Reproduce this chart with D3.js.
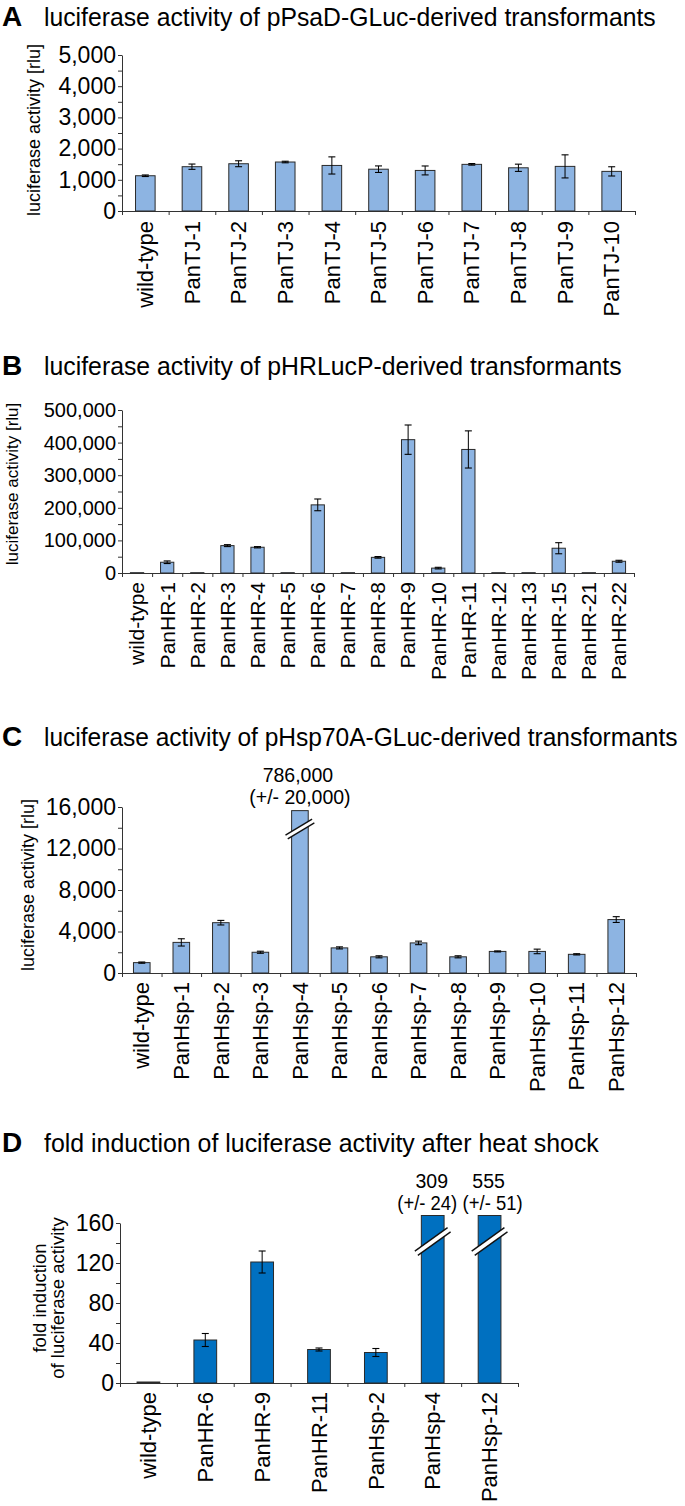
<!DOCTYPE html>
<html><head><meta charset="utf-8">
<script src="https://cdn.jsdelivr.net/npm/d3@7"></script>
<style>
body{margin:0;background:#fff}
svg{display:block}
text{font-family:"Liberation Sans",Arial,Helvetica,sans-serif}
</style>
</head><body>
<svg id="chart" width="685" height="1506"></svg>
<script>
// ---------- DATA ----------
const aCategories = ["wild-type","PanTJ-1","PanTJ-2","PanTJ-3","PanTJ-4","PanTJ-5","PanTJ-6","PanTJ-7","PanTJ-8","PanTJ-9","PanTJ-10"];
const aValues = [1130,1420,1515,1570,1460,1340,1300,1495,1385,1430,1270];
const aErrors = [25,85,95,25,275,105,143,25,116,370,148];
const aTicks = [0,1000,2000,3000,4000,5000];

const bCategories = ["wild-type","PanHR-1","PanHR-2","PanHR-3","PanHR-4","PanHR-5","PanHR-6","PanHR-7","PanHR-8","PanHR-9","PanHR-10","PanHR-11","PanHR-12","PanHR-13","PanHR-15","PanHR-21","PanHR-22"];
const bValues = [1000,33000,1000,84000,79000,1000,209000,1000,48000,409000,15000,379000,1000,1000,76000,1000,36000];
const bErrors = [0,4000,0,3000,2000,0,18000,0,2500,45000,2500,57000,0,0,17000,0,3000];
const bTicks = [0,100000,200000,300000,400000,500000];

const cCategories = ["wild-type","PanHsp-1","PanHsp-2","PanHsp-3","PanHsp-4","PanHsp-5","PanHsp-6","PanHsp-7","PanHsp-8","PanHsp-9","PanHsp-10","PanHsp-11","PanHsp-12"];
const cValues = [1000,2950,4850,2000,786000,2420,1560,2900,1560,2080,2080,1800,5150];
const cErrors = [60,350,220,100,20000,100,100,170,100,50,220,60,280];
const cTicks = [0,4000,8000,12000,16000];

const dCategories = ["wild-type","PanHR-6","PanHR-9","PanHR-11","PanHsp-2","PanHsp-4","PanHsp-12"];
const dValues = [1,43,121,33.5,30.5,309,555];
const dErrors = [0,6.5,11,1.5,4,24,51];
const dTicks = [0,40,80,120,160];

// ---------- DRAWING ----------
const svg = d3.select("#chart");
const fmt = d3.format(",");
const AXIS = "#333";

// place text at (x,y) and squeeze it horizontally to a given width
function fitText(sel, x, y, width, anchor) {
  const w = sel.node().getComputedTextLength();
  const s = Math.min(1, width / w);
  sel.attr("text-anchor", anchor || "start").attr("transform", `translate(${x},${y}) scale(${s},1)`);
  return sel;
}

function panel(o) {
  const g = svg.append("g");
  const n = o.categories.length;
  const x = d3.scaleBand().domain(o.categories).range([o.x0, o.x1]);
  const yMax = o.ticks[o.ticks.length - 1];
  const y = d3.scaleLinear().domain([0, yMax]).range([o.yBase, o.yTop]);
  const clip = o.clip ?? Infinity;

  // titles
  g.append("text").attr("x", 2).attr("y", o.titleY).attr("font-weight", "bold")
    .attr("font-size", 28).text(o.letter);
  fitText(g.append("text").attr("font-size", 26.5).text(o.title), 44, o.titleY, o.titleLen);

  // y axis with minor ticks
  const step = o.ticks[1] - o.ticks[0];
  const allTicks = d3.range(0, yMax + step / 4, step / 2);
  const ya = g.append("g").attr("transform", `translate(${o.x0},0)`)
    .call(d3.axisLeft(y).tickValues(allTicks)
      .tickFormat(d => o.ticks.some(t => Math.abs(t - d) < 1e-9) ? fmt(d) : "")
      .tickSize(4).tickSizeOuter(0).tickPadding(2));
  ya.selectAll("path,line").attr("stroke", AXIS);
  ya.selectAll("text").attr("font-size", o.tickFont).attr("fill", "#000");

  // x axis (ticks at category boundaries)
  const xi = d3.scaleLinear().domain([0, n]).range([o.x0, o.x1]);
  const xa = g.append("g").attr("transform", `translate(0,${o.yBase})`)
    .call(d3.axisBottom(xi).tickValues(d3.range(n + 1)).tickFormat("").tickSize(4).tickSizeOuter(0));
  xa.selectAll("path,line").attr("stroke", AXIS);

  // bars
  const bw = x.bandwidth() * o.barFrac;
  const bx = (i) => x(o.categories[i]) + (x.bandwidth() - bw) / 2;
  g.selectAll("rect.bar").data(o.values).join("rect").attr("class", "bar")
    .attr("x", (d, i) => bx(i))
    .attr("y", d => y(Math.min(d, clip)))
    .attr("width", bw)
    .attr("height", d => o.yBase - y(Math.min(d, clip)))
    .attr("fill", o.fill).attr("stroke", "#2a2a2a").attr("stroke-width", 1);

  // error bars
  const eb = o.values.map((v, i) => ({v, e: o.errors[i], i})).filter(d => d.v <= clip && d.e > 0);
  const cap = 3.5;
  eb.forEach(d => {
    const cx = x(o.categories[d.i]) + x.bandwidth() / 2;
    const y1 = y(d.v - d.e), y2 = y(d.v + d.e);
    g.append("line").attr("x1", cx).attr("x2", cx).attr("y1", y1).attr("y2", y2).attr("stroke", "#000").attr("stroke-width", 1);
    [y1, y2].forEach(yy => g.append("line").attr("x1", cx - cap).attr("x2", cx + cap)
      .attr("y1", yy).attr("y2", yy).attr("stroke", "#000").attr("stroke-width", 1.1));
  });

  // broken bars: break marks + annotations
  let k = 0;
  o.values.forEach((v, i) => {
    if (v <= clip) return;
    const cx = x(o.categories[i]) + x.bandwidth() / 2;
    const cy = y(o.breakAt);
    const hx = bw / 2 + 5, hy = hx * o.breakSlope;
    const len = Math.hypot(hx, hy);
    const px = hy / len * o.breakGap, py = hx / len * o.breakGap; // perpendicular
    g.append("line").attr("x1", cx - hx).attr("y1", cy + hy).attr("x2", cx + hx).attr("y2", cy - hy)
      .attr("stroke", "#fff").attr("stroke-width", o.breakGap * 2);
    [-1, 1].forEach(s => g.append("line")
      .attr("x1", cx - hx + s * px).attr("y1", cy + hy + s * py)
      .attr("x2", cx + hx + s * px).attr("y2", cy - hy + s * py)
      .attr("stroke", "#111").attr("stroke-width", 1.4));
    const dx = o.annDx[k++];
    g.append("text").attr("x", cx + dx[0]).attr("y", o.annY[0]).attr("text-anchor", "middle")
      .attr("font-size", 19.5).text(fmt(v));
    const t2 = g.append("text").attr("font-size", 19.5).text(`(+/- ${fmt(o.errors[i])})`);
    fitText(t2, cx + dx[1], o.annY[1], o.annLen || 999, "middle");
  });

  // category labels
  g.selectAll("text.xl").data(o.categories).join("text").attr("class", "xl")
    .attr("transform", d => `translate(${x(d) + x.bandwidth() / 2},${o.yBase + o.labelGap}) rotate(-90)`)
    .attr("text-anchor", "end").attr("dy", "0.35em").attr("font-size", o.labelFont).text(d => d);

  // y title
  o.yTitle.forEach((t, j) => {
    g.append("text").attr("transform", `translate(${o.yTitleX[j]},${o.yTitleY}) rotate(-90)`)
      .attr("text-anchor", "middle").attr("font-size", o.yTitleFont).text(t);
  });
}

panel({letter: "A", title: "luciferase activity of pPsaD-GLuc-derived transformants", titleY: 26, titleLen: 612,
  categories: aCategories, values: aValues, errors: aErrors, ticks: aTicks,
  x0: 122, x1: 635, yBase: 211, yTop: 55, barFrac: 0.42, fill: "#8db4e2",
  tickFont: 23, labelFont: 22, labelGap: 10,
  yTitle: ["luciferase activity [rlu]"], yTitleX: [40], yTitleY: 130, yTitleFont: 18});

panel({letter: "B", title: "luciferase activity of pHRLucP-derived transformants", titleY: 375, titleLen: 578,
  categories: bCategories, values: bValues, errors: bErrors, ticks: bTicks,
  x0: 122, x1: 634, yBase: 573, yTop: 410, barFrac: 0.44, fill: "#8db4e2",
  tickFont: 20, labelFont: 21, labelGap: 9,
  yTitle: ["luciferase activity [rlu]"], yTitleX: [18], yTitleY: 484, yTitleFont: 17});

panel({letter: "C", title: "luciferase activity of pHsp70A-GLuc-derived transformants", titleY: 746, titleLen: 634,
  categories: cCategories, values: cValues, errors: cErrors, ticks: cTicks,
  x0: 122, x1: 636, yBase: 973, yTop: 807, barFrac: 0.42, fill: "#8db4e2",
  tickFont: 23, labelFont: 22, labelGap: 9,
  clip: 15650, breakAt: 13875, breakSlope: 0.6, breakGap: 2.2, annY: [782, 804], annDx: [[-2, 0]],
  yTitle: ["luciferase activity [rlu]"], yTitleX: [34], yTitleY: 885, yTitleFont: 18});

panel({letter: "D", title: "fold induction of luciferase activity after heat shock", titleY: 1152, titleLen: 555,
  categories: dCategories, values: dValues, errors: dErrors, ticks: dTicks,
  x0: 120, x1: 518, yBase: 1383, yTop: 1223, barFrac: 0.40, fill: "#0070c0",
  tickFont: 23, labelFont: 22, labelGap: 9,
  clip: 167.5, breakAt: 141.5, breakSlope: 0.72, breakGap: 2.6, annY: [1188, 1210], annDx: [[-1, -5.5], [-1, 3]], annLen: 60,
  yTitle: ["fold induction", "of luciferase activity"], yTitleX: [46, 64], yTitleY: 1298, yTitleFont: 18.5});
</script>
</body></html>
